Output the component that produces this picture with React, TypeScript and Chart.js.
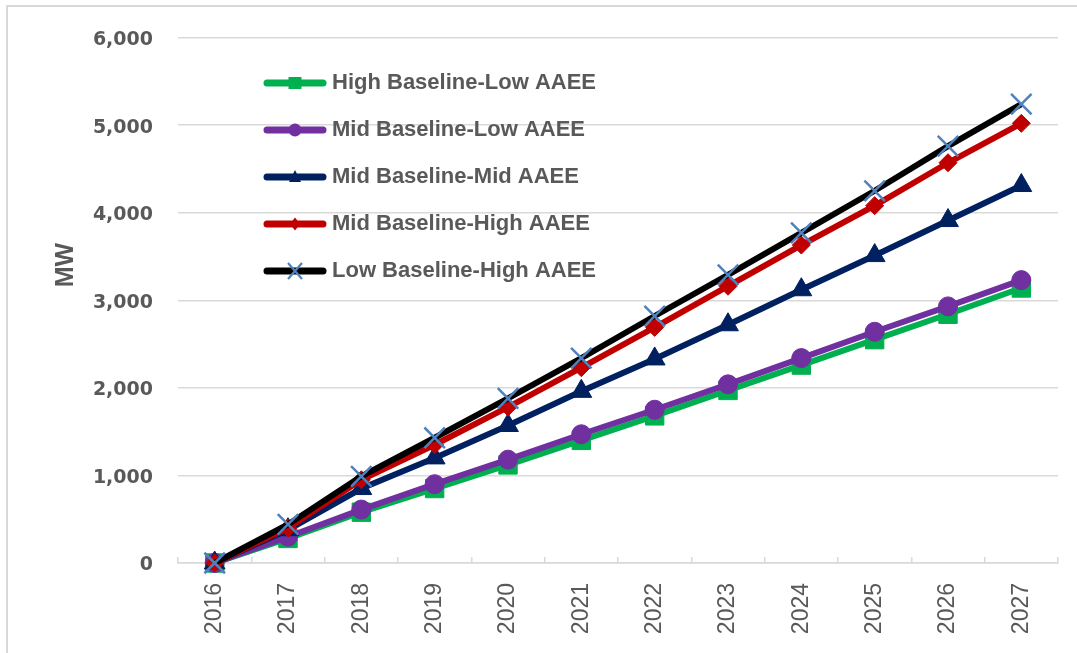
import React, { useEffect, useRef } from 'react';
import { Chart, registerables } from 'chart.js';

Chart.register(...registerables);

const years = ['2016', '2017', '2018', '2019', '2020', '2021', '2022', '2023', '2024', '2025', '2026', '2027'];

const seriesNames = [
  'High Baseline-Low AAEE',
  'Mid Baseline-Low AAEE',
  'Mid Baseline-Mid AAEE',
  'Mid Baseline-High AAEE',
  'Low Baseline-High AAEE',
];

const highBaseLowAAEE = [0, 280, 580, 850, 1120, 1400, 1680, 1970, 2260, 2550, 2840, 3140];
const midBaseLowAAEE = [0, 300, 610, 900, 1180, 1470, 1750, 2040, 2340, 2640, 2930, 3230];
const midBaseMidAAEE = [0, 380, 850, 1200, 1570, 1960, 2330, 2720, 3120, 3510, 3910, 4310];
const midBaseHighAAEE = [0, 400, 950, 1350, 1780, 2230, 2690, 3160, 3630, 4080, 4570, 5020];
const lowBaseHighAAEE = [0, 440, 990, 1430, 1880, 2340, 2820, 3290, 3770, 4250, 4760, 5240];

const yMin = 0;
const yMax = 6000;
const yStep = 1000;
const yAxisTitle = 'MW';

const lineColors = ['#00b050', '#7030a0', '#002060', '#c00000', '#000000'];
const markerColors = ['#00b050', '#7030a0', '#002060', '#c00000', '#4f81bd'];
const markerStyles = ['rect', 'circle', 'triangle', 'rectRot', 'crossRot'];
const markerRadii = [13, 9.5, 12, 9, 14.5];

const GRID = '#d9d9d9';
const TEXT = '#595959';

function makeSwatch(lineColor: string, marker: string, markerColor: string): HTMLCanvasElement {
  const c = document.createElement('canvas');
  c.width = 64;
  c.height = 22;
  const g = c.getContext('2d')!;
  const cx = 32;
  const cy = 11;
  g.strokeStyle = lineColor;
  g.lineWidth = 7;
  g.lineCap = 'round';
  g.beginPath();
  g.moveTo(4, cy);
  g.lineTo(60, cy);
  g.stroke();
  g.fillStyle = markerColor;
  g.strokeStyle = markerColor;
  switch (marker) {
    case 'rect':
      g.fillRect(cx - 6.5, cy - 6, 13, 12);
      break;
    case 'circle':
      g.beginPath();
      g.arc(cx, cy, 6.5, 0, Math.PI * 2);
      g.fill();
      break;
    case 'triangle':
      g.beginPath();
      g.moveTo(cx, cy - 7);
      g.lineTo(cx + 6, cy + 5);
      g.lineTo(cx - 6, cy + 5);
      g.closePath();
      g.fill();
      break;
    case 'rectRot':
      g.beginPath();
      g.moveTo(cx, cy - 6.5);
      g.lineTo(cx + 5, cy);
      g.lineTo(cx, cy + 6.5);
      g.lineTo(cx - 5, cy);
      g.closePath();
      g.fill();
      break;
    case 'crossRot':
      g.lineWidth = 2.2;
      g.lineCap = 'butt';
      g.beginPath();
      g.moveTo(cx - 7, cy - 8);
      g.lineTo(cx + 7, cy + 8);
      g.moveTo(cx + 7, cy - 8);
      g.lineTo(cx - 7, cy + 8);
      g.stroke();
      break;
  }
  return c;
}

const legendShift = {
  id: 'legendShift',
  afterLayout(chart: any) {
    const lg = chart.legend;
    if (!lg) return;
    lg.left = 244;
    lg.top = 47;
    lg.right = chart.chartArea.right;
    lg.bottom = chart.chartArea.bottom;
  },
};

const yTitlePlugin = {
  id: 'yTitlePlugin',
  afterDraw(chart: any) {
    const { ctx, chartArea } = chart;
    ctx.save();
    ctx.translate(66, chartArea.top + (chartArea.bottom - chartArea.top) * 0.433);
    ctx.rotate(-Math.PI / 2);
    ctx.font = 'bold 25px "Liberation Sans", Arial, sans-serif';
    ctx.fillStyle = TEXT;
    ctx.textAlign = 'center';
    ctx.textBaseline = 'middle';
    ctx.fillText(yAxisTitle, 0, 0);
    ctx.restore();
  },
};

export default function App() {
  const ref = useRef<HTMLCanvasElement>(null);

  useEffect(() => {
    if (!ref.current) return;
    const values = [highBaseLowAAEE, midBaseLowAAEE, midBaseMidAAEE, midBaseHighAAEE, lowBaseHighAAEE];
    const swatches = seriesNames.map((_, i) => makeSwatch(lineColors[i], markerStyles[i], markerColors[i]));

    const datasets = seriesNames.map((name, i) => ({
      label: name,
      data: values[i],
      borderColor: lineColors[i],
      backgroundColor: lineColors[i],
      borderWidth: 6,
      pointStyle: markerStyles[i] as any,
      pointRadius: markerRadii[i],
      pointHoverRadius: markerRadii[i],
      pointBackgroundColor: markerColors[i],
      pointBorderColor: markerColors[i],
      pointBorderWidth: i === 4 ? 2.5 : 1,
      tension: 0,
      clip: false as any,
      order: seriesNames.length - i,
    }));

    const chart = new Chart(ref.current, {
      type: 'line',
      data: { labels: years, datasets },
      options: {
        animation: false,
        responsive: false,
        layout: { padding: { top: 37.5, right: 19, bottom: 0, left: 0 } },
        plugins: {
          title: { display: false },
          tooltip: { enabled: false },
          legend: {
            display: true,
            position: 'chartArea' as any,
            align: 'start',
            labels: {
              usePointStyle: true,
              pointStyleWidth: 52,
              padding: 25,
              color: TEXT,
              font: { family: '"Liberation Sans", Arial, sans-serif', size: 22, weight: 'bold' },
              generateLabels: () =>
                seriesNames.map((name, i) => ({
                  text: name,
                  fillStyle: lineColors[i],
                  strokeStyle: lineColors[i],
                  lineWidth: 0,
                  pointStyle: swatches[i] as any,
                  hidden: false,
                  datasetIndex: i,
                  fontColor: TEXT,
                })),
            },
          },
        },
        scales: {
          x: {
            type: 'category',
            offset: true,
            afterFit: (s: any) => {
              s.height = 90;
            },
            border: { display: true, color: GRID, width: 1.5 },
            grid: {
              display: true,
              offset: true,
              drawOnChartArea: false,
              drawTicks: true,
              tickLength: -6,
              color: GRID,
              lineWidth: 1.5,
            },
            ticks: {
              minRotation: 90,
              maxRotation: 90,
              padding: 26,
              color: TEXT,
              font: { family: '"Liberation Sans", Arial, sans-serif', size: 23 },
            },
          },
          y: {
            min: yMin,
            max: yMax,
            afterFit: (s: any) => {
              s.width = 178;
            },
            border: { display: false },
            grid: { color: GRID, lineWidth: 1.5, drawTicks: false },
            ticks: {
              stepSize: yStep,
              padding: 25,
              labelOffset: 2.5,
              color: TEXT,
              font: { family: '"DejaVu Sans", Verdana, sans-serif', size: 19, weight: 'bold' },
              callback: (v: any) => Number(v).toLocaleString('en-US'),
            },
          },
        },
      },
      plugins: [legendShift, yTitlePlugin],
    });
    return () => chart.destroy();
  }, []);

  return (
    <div style={{ position: 'absolute', left: 0, top: 0, width: 1077, height: 653, overflow: 'hidden', background: '#fff' }}>
      <div
        style={{
          position: 'absolute',
          left: 6,
          top: 5,
          width: 1200,
          height: 800,
          borderLeft: `2px solid ${GRID}`,
          borderTop: `2px solid ${GRID}`,
        }}
      />
      <canvas ref={ref} width={1077} height={653} style={{ position: 'absolute', left: 0, top: 0 }} />
    </div>
  );
}
